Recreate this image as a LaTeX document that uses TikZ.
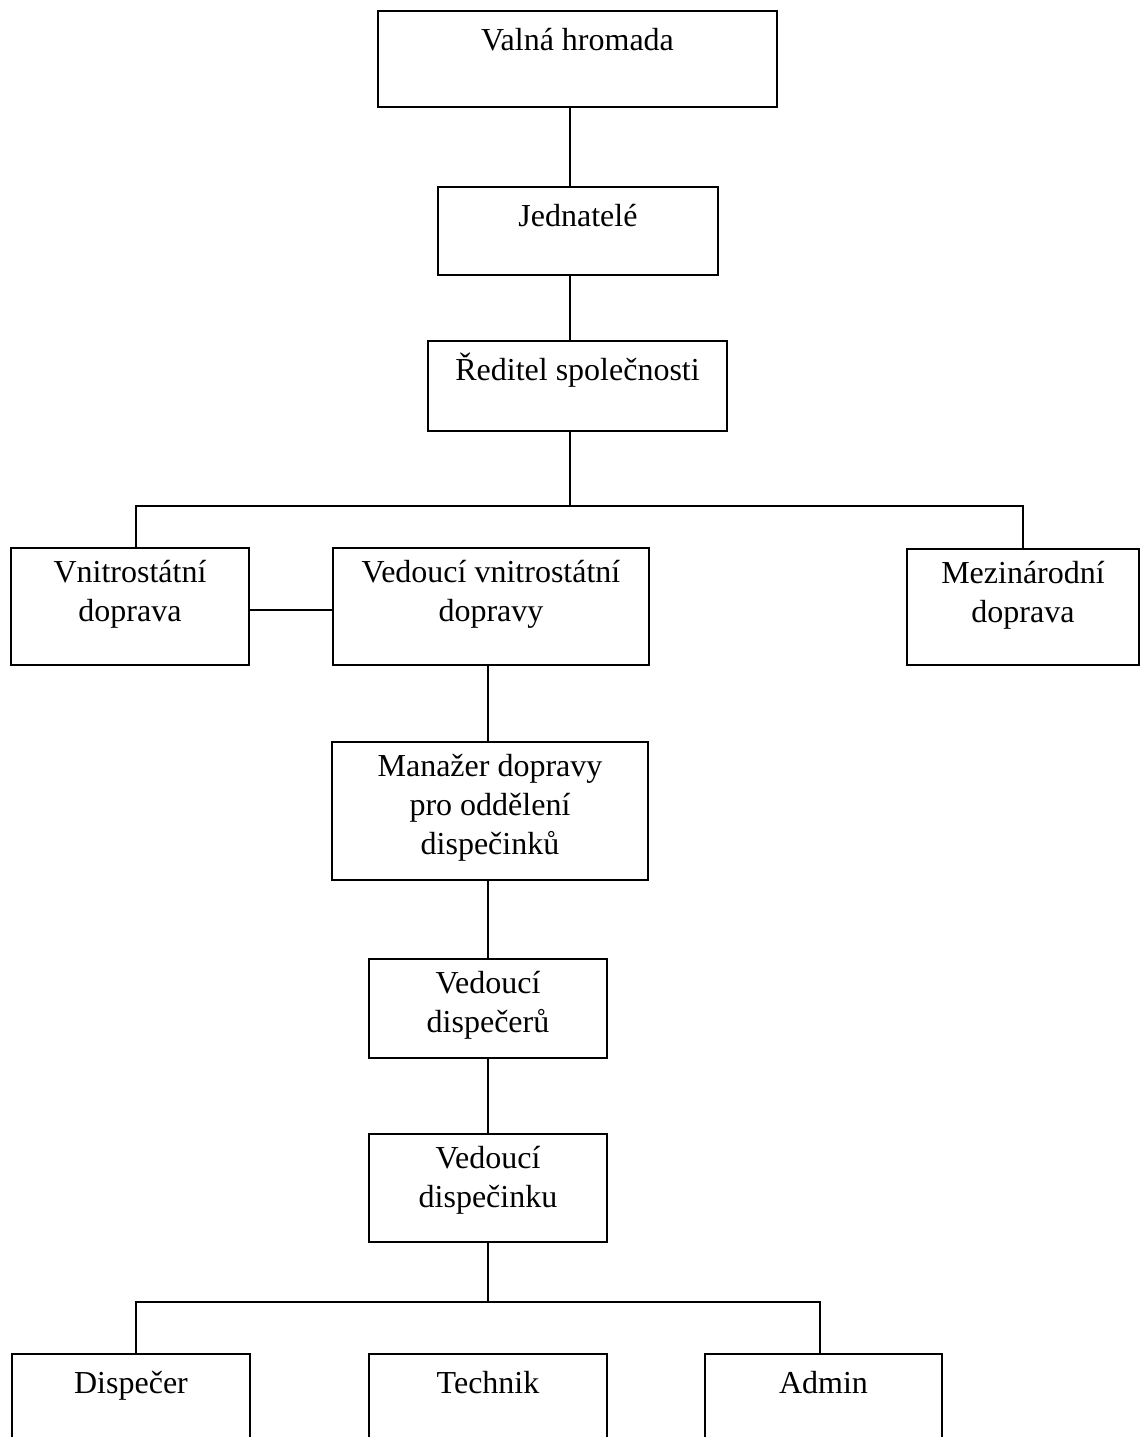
\documentclass[tikz,border=0pt]{standalone}
\usepackage{fontspec}
\setmainfont{Liberation Serif}
\usetikzlibrary{positioning, calc}
\tikzstyle{post} = [rectangle, draw=black, line width=0.7pt, inner sep=0pt]
\tikzstyle{boxtext} = [draw=none, anchor=north, inner sep=0pt, yshift=-5.1pt, align=center, font=\fontsize{12.8}{15.6}\selectfont, execute at begin node=\strut]
\tikzstyle{line} = [line width=0.7pt]

\begin{document}
\begin{tikzpicture}[x=0.4pt, y=-0.4pt]
  \useasboundingbox (0,0) rectangle (1141,1437);
  \clip (0,0) rectangle (1141,1437);

  % vedeni spolecnosti
  \node (valna) [post, minimum width=159.6pt, minimum height=38.4pt, label={[boxtext]north:Valná hromada}] at (577.5,59) {};
  \node (jedn) [post, minimum width=112pt, minimum height=35.2pt, label={[boxtext]north:Jednatelé}] at (578,231) {};
  \node (redit) [post, minimum width=119.6pt, minimum height=36pt, label={[boxtext]north:Ředitel společnosti}] at (577.5,386) {};

  % oddeleni dopravy
  \node (vnitro) [post, minimum width=95.2pt, minimum height=46.8pt, label={[boxtext]north:{Vnitrostátní\\doprava}}] at (130,606.5) {};
  \node (vedvn) [post, minimum width=126.4pt, minimum height=46.8pt, label={[boxtext]north:{Vedoucí vnitrostátní\\dopravy}}] at (491,606.5) {};
  \node (mezi) [post, minimum width=92.8pt, minimum height=46.4pt, label={[boxtext]north:{Mezinárodní\\doprava}}] at (1023,607) {};

  % dispecink
  \node (manaz) [post, minimum width=126.4pt, minimum height=55.2pt, label={[boxtext]north:{Manažer dopravy\\pro oddělení\\dispečinků}}] at (490,811) {};
  \node (veddisp) [post, minimum width=95.2pt, minimum height=39.6pt, label={[boxtext]north:{Vedoucí\\dispečerů}}] at (488,1008.5) {};
  \node (veddispk) [post, minimum width=95.2pt, minimum height=43.2pt, label={[boxtext]north:{Vedoucí\\dispečinku}}] at (488,1188) {};

  % zamestnanci
  \node (disp) [post, minimum width=95.2pt, minimum height=48pt, label={[boxtext]north:Dispečer}] at (131,1414) {};
  \node (tech) [post, minimum width=95.2pt, minimum height=48pt, label={[boxtext]north:Technik}] at (488,1414) {};
  \node (admin) [post, minimum width=94.8pt, minimum height=48pt, label={[boxtext]north:Admin}] at (823.5,1414) {};

  % pomocne body spojnic
  \coordinate (trunk) at (570,0);
  \coordinate (busL) at (136,506);
  \coordinate (side) at (0,610);
  \coordinate (trunkb) at (488,0);
  \coordinate (busbL) at (136,1302);
  \coordinate (busbR) at (820,1302);

  % spojnice
  \draw [line](valna.south -| trunk) -- (jedn.north -| trunk);
  \draw [line](jedn.south -| trunk) -- (redit.north -| trunk);
  \draw [line](redit.south -| trunk) -- (busL -| trunk);
  \draw [line](vnitro.north -| busL) -- (busL) -- (busL -| mezi) -- (mezi.north);
  \draw [line](vnitro.east |- side) -- (vedvn.west |- side);
  \draw [line](vedvn.south -| trunkb) -- (manaz.north -| trunkb);
  \draw [line](manaz.south -| trunkb) -- (veddisp.north -| trunkb);
  \draw [line](veddisp.south -| trunkb) -- (veddispk.north -| trunkb);
  \draw [line](veddispk.south -| trunkb) -- (busbL -| trunkb);
  \draw [line](disp.north -| busbL) -- (busbL) -- (busbR) -- (admin.north -| busbR);
\end{tikzpicture}
\end{document}
